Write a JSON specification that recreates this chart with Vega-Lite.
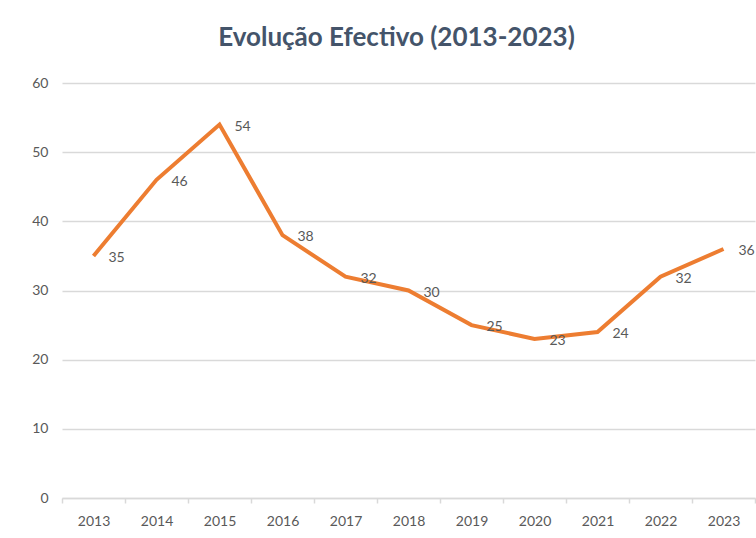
{
  "$schema": "https://vega.github.io/schema/vega-lite/v6.json",
  "width": 693,
  "height": 415,
  "autosize": {"type": "none"},
  "padding": {"left": 62, "top": 83, "right": 1, "bottom": 40},
  "background": "white",
  "config": {"view": {"stroke": null}, "font": "Lato"},
  "title": {
    "text": "Evolução Efectivo (2013-2023)",
    "font": "Lato",
    "fontSize": 26,
    "fontWeight": "bold",
    "color": "#44546A",
    "anchor": "middle",
    "dx": -12,
    "offset": 25
  },
  "data": {
    "values": [
      {"ano": "2013", "efectivo": 35},
      {"ano": "2014", "efectivo": 46},
      {"ano": "2015", "efectivo": 54},
      {"ano": "2016", "efectivo": 38},
      {"ano": "2017", "efectivo": 32},
      {"ano": "2018", "efectivo": 30},
      {"ano": "2019", "efectivo": 25},
      {"ano": "2020", "efectivo": 23},
      {"ano": "2021", "efectivo": 24},
      {"ano": "2022", "efectivo": 32},
      {"ano": "2023", "efectivo": 36}
    ]
  },
  "encoding": {
    "x": {
      "field": "ano",
      "type": "ordinal",
      "scale": {"type": "band", "paddingInner": 0, "paddingOuter": 0},
      "axis": {
        "title": null,
        "labelAngle": 0,
        "labelFontSize": 14,
        "labelColor": "#595959",
        "labelPadding": 11,
        "domainColor": "#D9D9D9",
        "domainWidth": 1.5,
        "tickColor": "#D9D9D9",
        "tickWidth": 1.5,
        "tickSize": 5,
        "tickBand": "extent",
        "grid": false
      }
    },
    "y": {
      "field": "efectivo",
      "type": "quantitative",
      "scale": {"domain": [0, 60], "nice": false},
      "axis": {
        "title": null,
        "values": [0, 10, 20, 30, 40, 50, 60],
        "labelFontSize": 14,
        "labelColor": "#595959",
        "labelPadding": 14,
        "domain": false,
        "ticks": false,
        "gridColor": "#D9D9D9",
        "gridWidth": 1.5
      }
    }
  },
  "layer": [
    {
      "mark": {"type": "line", "color": "#ED7D31", "strokeWidth": 4, "strokeJoin": "miter"}
    },
    {
      "mark": {"type": "text", "align": "left", "baseline": "middle", "dx": 15, "dy": 2, "fontSize": 14, "color": "#595959"},
      "encoding": {"text": {"field": "efectivo", "type": "quantitative"}}
    }
  ]
}
